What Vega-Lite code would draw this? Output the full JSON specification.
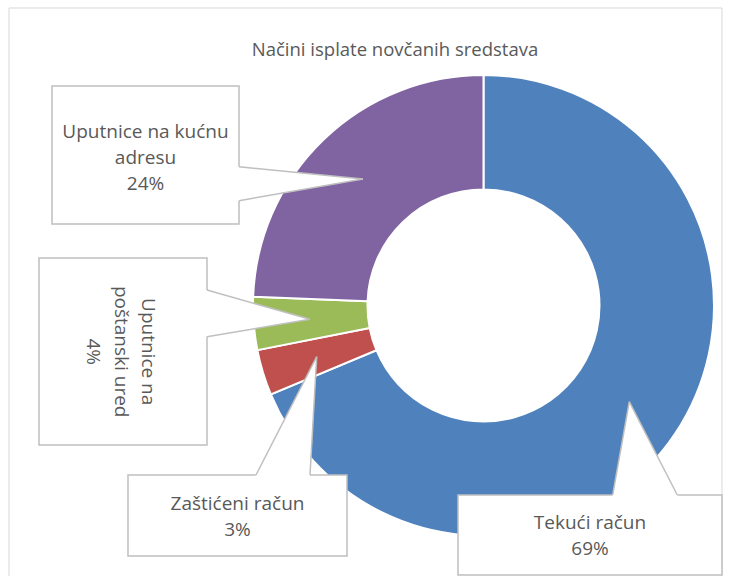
{
  "$schema": "https://vega.github.io/schema/vega-lite/v6.json",
  "width": 737,
  "height": 577,
  "autosize": "none",
  "padding": 0,
  "background": "white",
  "config": {"view": {"stroke": null}},
  "datasets": {
    "shares": [
      {"name": "Tekući račun", "share": 0.687, "ord": 1},
      {"name": "Zaštićeni račun", "share": 0.032, "ord": 2},
      {"name": "Uputnice na poštanski ured", "share": 0.037, "ord": 3},
      {"name": "Uputnice na kućnu adresu", "share": 0.244, "ord": 4}
    ],
    "frame": [
      {"x": -2.0586, "y": 1.2907, "x2": -2.0586, "y2": -1.1735},
      {"x": -2.0586, "y": 1.2907, "x2": 1.0347, "y2": 1.2907},
      {"x": 1.0347, "y": 1.2907, "x2": 1.0347, "y2": -1.1735}
    ],
    "boxes": [
      {"id": "A", "x": -1.872, "x2": -1.0607, "y": 0.9523, "y2": 0.3536},
      {"id": "B", "x": -1.9284, "x2": -1.1996, "y": 0.2061, "y2": -0.6052},
      {"id": "C", "x": -1.5423, "x2": -0.5922, "y": -0.7354, "y2": -1.0868},
      {"id": "D", "x": -0.1106, "x2": 1.0347, "y": -0.8221, "y2": -1.1692}
    ],
    "pointersV": [
      {"id": "A", "x": -0.5228, "y": 0.5488, "y2": 0.5488},
      {"id": "A", "x": -1.0681, "y": 0.603, "y2": 0.4531},
      {"id": "B", "x": -0.7527, "y": -0.0599, "y2": -0.0599},
      {"id": "B", "x": -1.2095, "y": 0.0698, "y2": -0.1367}
    ],
    "pointersH": [
      {"id": "C", "y": -0.2221, "x": -0.7236, "x2": -0.7236},
      {"id": "C", "y": -0.744, "x": -0.9913, "x2": -0.7531},
      {"id": "D", "y": -0.4174, "x": 0.6325, "x2": 0.6325},
      {"id": "D", "y": -0.8308, "x": 0.5588, "x2": 0.8451}
    ],
    "leaders": [
      {"x": -1.0607, "y": 0.6022, "x2": -0.5228, "y2": 0.5488},
      {"x": -1.0607, "y": 0.4547, "x2": -0.5228, "y2": 0.5488},
      {"x": -1.1996, "y": 0.0672, "x2": -0.7527, "y2": -0.0599},
      {"x": -1.1996, "y": -0.1354, "x2": -0.7527, "y2": -0.0599},
      {"x": -0.987, "y": -0.7354, "x2": -0.7236, "y2": -0.2221},
      {"x": -0.7527, "y": -0.7354, "x2": -0.7236, "y2": -0.2221},
      {"x": 0.5605, "y": -0.8221, "x2": 0.6325, "y2": -0.4174},
      {"x": 0.8408, "y": -0.8221, "x2": 0.6325, "y2": -0.4174}
    ],
    "labels": [
      {"x": -1.4664, "y": 0.754, "lines": ["Uputnice na kućnu", "adresu", "24%"]},
      {"x": -1.0672, "y": -0.8612, "lines": ["Zaštićeni račun", "3%"]},
      {"x": 0.462, "y": -0.9423, "lines": ["Tekući račun", "69%"]}
    ],
    "labelsRot": [
      {"x": -1.4555, "y": -0.2004, "lines": ["Uputnice na", "poštanski ured", "4%"]}
    ],
    "titles": [
      {"x": -0.384, "y": 1.1085, "text": "Načini isplate novčanih sredstava"}
    ]
  },
  "layer": [
    {
      "data": {"name": "frame"},
      "mark": {"type": "rule", "stroke": "#D9D9D9", "strokeWidth": 1},
      "encoding": {
        "x": {"field": "x", "type": "quantitative", "scale": {"domain": [-2.0976, 1.0998], "nice": false, "zero": false}, "axis": null},
        "y": {"field": "y", "type": "quantitative", "scale": {"domain": [-1.1779, 1.3254], "nice": false, "zero": false}, "axis": null},
        "x2": {"field": "x2"},
        "y2": {"field": "y2"}
      }
    },
    {
      "data": {"name": "shares"},
      "mark": {"type": "arc", "outerRadius": 230.5, "innerRadius": 116, "stroke": "white", "strokeWidth": 2},
      "encoding": {
        "theta": {"field": "share", "type": "quantitative", "stack": true},
        "order": {"field": "ord", "type": "quantitative"},
        "color": {
          "field": "name", "type": "nominal", "legend": null,
          "scale": {
            "domain": ["Tekući račun", "Zaštićeni račun", "Uputnice na poštanski ured", "Uputnice na kućnu adresu"],
            "range": ["#4F81BD", "#C0504D", "#9BBB59", "#8064A2"]
          }
        },
        "x": {"datum": 0, "type": "quantitative", "scale": {"domain": [-2.0976, 1.0998], "nice": false, "zero": false}, "axis": null},
        "y": {"datum": 0, "type": "quantitative", "scale": {"domain": [-1.1779, 1.3254], "nice": false, "zero": false}, "axis": null}
      }
    },
    {
      "data": {"name": "boxes"},
      "mark": {"type": "rect", "fill": "white", "stroke": "#BFBFBF", "strokeWidth": 1.5},
      "encoding": {
        "x": {"field": "x", "type": "quantitative", "scale": {"domain": [-2.0976, 1.0998], "nice": false, "zero": false}, "axis": null},
        "y": {"field": "y", "type": "quantitative", "scale": {"domain": [-1.1779, 1.3254], "nice": false, "zero": false}, "axis": null},
        "x2": {"field": "x2"},
        "y2": {"field": "y2"}
      }
    },
    {
      "data": {"name": "pointersV"},
      "mark": {"type": "area", "orient": "vertical", "fill": "white", "opacity": 1},
      "encoding": {
        "detail": {"field": "id", "type": "nominal"},
        "x": {"field": "x", "type": "quantitative", "scale": {"domain": [-2.0976, 1.0998], "nice": false, "zero": false}, "axis": null},
        "y": {"field": "y", "type": "quantitative", "stack": null, "scale": {"domain": [-1.1779, 1.3254], "nice": false, "zero": false}, "axis": null},
        "y2": {"field": "y2"}
      }
    },
    {
      "data": {"name": "pointersH"},
      "mark": {"type": "area", "orient": "horizontal", "fill": "white", "opacity": 1},
      "encoding": {
        "detail": {"field": "id", "type": "nominal"},
        "y": {"field": "y", "type": "quantitative", "scale": {"domain": [-1.1779, 1.3254], "nice": false, "zero": false}, "axis": null},
        "x": {"field": "x", "type": "quantitative", "stack": null, "scale": {"domain": [-2.0976, 1.0998], "nice": false, "zero": false}, "axis": null},
        "x2": {"field": "x2"}
      }
    },
    {
      "data": {"name": "leaders"},
      "mark": {"type": "rule", "stroke": "#BFBFBF", "strokeWidth": 1.5},
      "encoding": {
        "x": {"field": "x", "type": "quantitative", "scale": {"domain": [-2.0976, 1.0998], "nice": false, "zero": false}, "axis": null},
        "y": {"field": "y", "type": "quantitative", "scale": {"domain": [-1.1779, 1.3254], "nice": false, "zero": false}, "axis": null},
        "x2": {"field": "x2"},
        "y2": {"field": "y2"}
      }
    },
    {
      "data": {"name": "labels"},
      "mark": {"type": "text", "font": "Open Sans", "fontSize": 19, "lineHeight": 26.3, "color": "#595959", "align": "center", "baseline": "middle"},
      "encoding": {
        "x": {"field": "x", "type": "quantitative", "scale": {"domain": [-2.0976, 1.0998], "nice": false, "zero": false}, "axis": null},
        "y": {"field": "y", "type": "quantitative", "scale": {"domain": [-1.1779, 1.3254], "nice": false, "zero": false}, "axis": null},
        "text": {"field": "lines"}
      }
    },
    {
      "data": {"name": "labelsRot"},
      "mark": {"type": "text", "font": "Open Sans", "fontSize": 19, "lineHeight": 27.5, "angle": 90, "color": "#595959", "align": "center", "baseline": "middle"},
      "encoding": {
        "x": {"field": "x", "type": "quantitative", "scale": {"domain": [-2.0976, 1.0998], "nice": false, "zero": false}, "axis": null},
        "y": {"field": "y", "type": "quantitative", "scale": {"domain": [-1.1779, 1.3254], "nice": false, "zero": false}, "axis": null},
        "text": {"field": "lines"}
      }
    },
    {
      "data": {"name": "titles"},
      "mark": {"type": "text", "font": "Open Sans", "fontSize": 18.5, "color": "#595959", "align": "center", "baseline": "middle"},
      "encoding": {
        "x": {"field": "x", "type": "quantitative", "scale": {"domain": [-2.0976, 1.0998], "nice": false, "zero": false}, "axis": null},
        "y": {"field": "y", "type": "quantitative", "scale": {"domain": [-1.1779, 1.3254], "nice": false, "zero": false}, "axis": null},
        "text": {"field": "text"}
      }
    }
  ]
}
